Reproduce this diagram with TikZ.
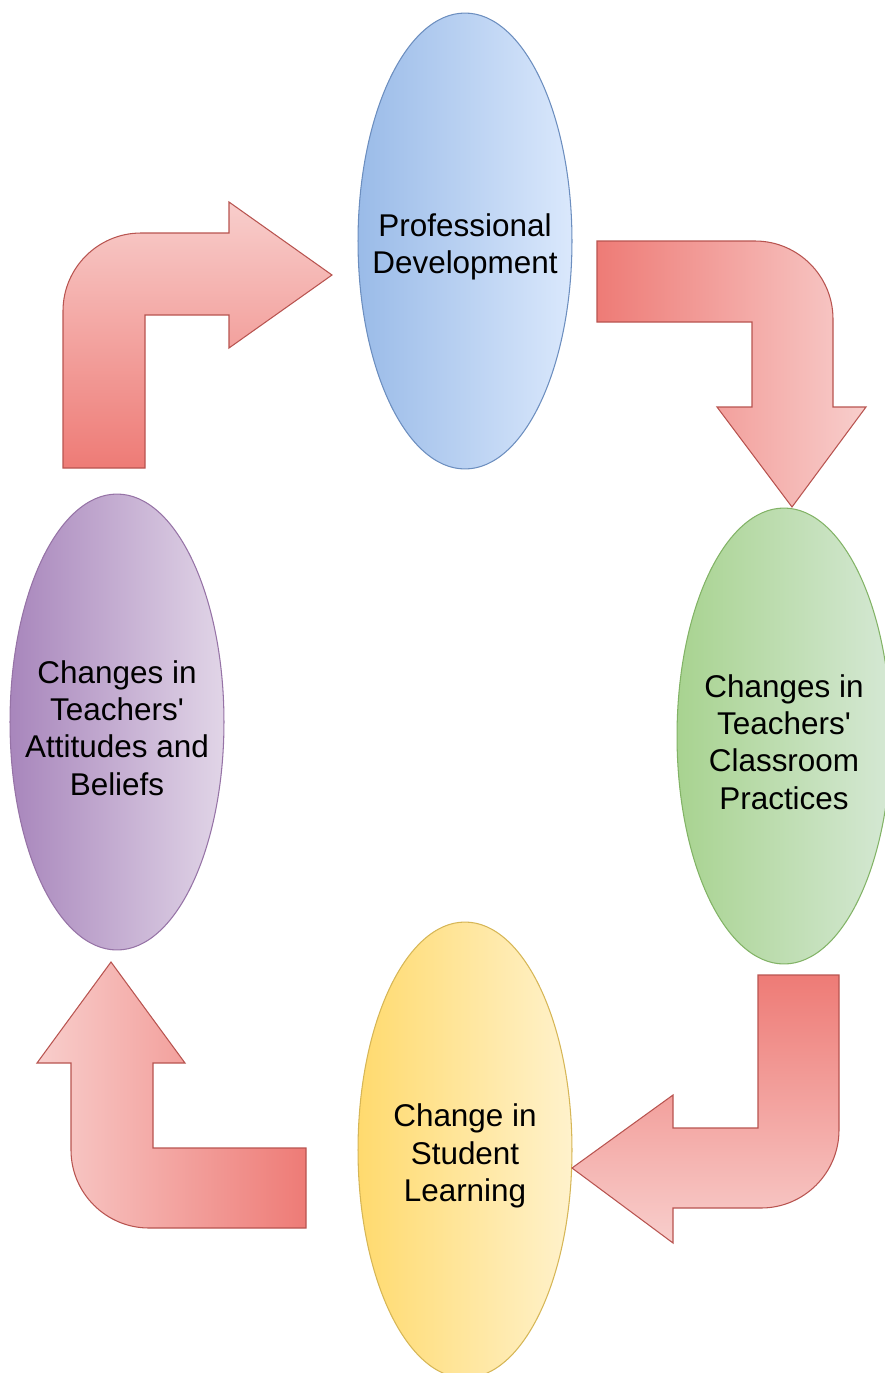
\documentclass[tikz,border=0pt]{standalone}
\usepackage{fontspec}
\setmainfont{Liberation Sans}
\usetikzlibrary{shapes.geometric}

\definecolor{blueDark}{HTML}{9ABBE8}
\definecolor{blueLight}{HTML}{DAE8FC}
\definecolor{blueLine}{HTML}{6C8EBF}
\definecolor{greenDark}{HTML}{A8D390}
\definecolor{greenLight}{HTML}{D5E8D4}
\definecolor{greenLine}{HTML}{82B366}
\definecolor{yellowDark}{HTML}{FFDA6E}
\definecolor{yellowLight}{HTML}{FFF2CC}
\definecolor{yellowLine}{HTML}{D6B656}
\definecolor{purpleDark}{HTML}{A886BC}
\definecolor{purpleLight}{HTML}{E1D5E7}
\definecolor{purpleLine}{HTML}{9673A6}
\definecolor{redDark}{HTML}{EE7B76}
\definecolor{redLight}{HTML}{F8CECC}
\definecolor{redLine}{HTML}{B85450}

\tikzset{
    oval/.style={ellipse, draw, line width=0.6pt, minimum width=4.28cm, minimum height=9.12cm, inner sep=0pt},
    ovaltext/.style={align=center, inner sep=0pt, yshift=-0.12cm, font=\fontsize{17.9}{21.3}\selectfont},
    bentarrow/.style={draw=redLine, line width=0.6pt, line join=miter}
}

\begin{document}
\begin{tikzpicture}[x=0.02cm, y=-0.02cm]
    \useasboundingbox (0,0) rectangle (885,1373);
    \clip (0,0) rectangle (885,1373);

    % Professional Development
    \node[oval, draw=blueLine, left color=blueDark, right color=blueLight] (develop) at (465,241) {};
    \node[ovaltext] (developtext) at (develop) {Professional\\Development};

    % Classroom practices
    \node[oval, draw=greenLine, left color=greenDark, right color=greenLight] (practices) at (784,736) {};
    \node[ovaltext] (practicestext) at (practices) {Changes in\\Teachers\textquotesingle\\Classroom\\Practices};

    % Student learning
    \node[oval, draw=yellowLine, left color=yellowDark, right color=yellowLight] (learning) at (465,1150) {};
    \node[ovaltext] (learningtext) at (learning) {Change in\\Student\\Learning};

    % Attitudes and beliefs
    \node[oval, draw=purpleLine, left color=purpleDark, right color=purpleLight] (beliefs) at (117,722) {};
    \node[ovaltext] (beliefstext) at (beliefs) {Changes in\\Teachers\textquotesingle\\Attitudes and\\Beliefs};

    % Bent arrow: up, then right
    \draw[bentarrow, top color=redLight, bottom color=redDark]
        (63,468) -- (63,311) .. controls (63,268) and (98,233) .. (141,233) -- (229,233) -- (229,202)
        -- (332,275) -- (229,348) -- (229,315) -- (145,315) -- (145,468) -- cycle;

    % Bent arrow: right, then down
    \draw[bentarrow, left color=redDark, right color=redLight]
        (597,241) -- (755,241) .. controls (798,241) and (833,276) .. (833,319) -- (833,407) -- (866,407)
        -- (792,507) -- (717,407) -- (752,407) -- (752,322) -- (597,322) -- cycle;

    % Bent arrow: down, then left
    \draw[bentarrow, top color=redDark, bottom color=redLight]
        (758,975) -- (839,975) -- (839,1130) .. controls (839,1173) and (804,1208) .. (761,1208) -- (673,1208)
        -- (673,1243) -- (572,1168) -- (673,1095) -- (673,1128) -- (758,1128) -- cycle;

    % Bent arrow: left, then up
    \draw[bentarrow, left color=redLight, right color=redDark]
        (306,1148) -- (306,1228) -- (149,1228) .. controls (106,1228) and (71,1193) .. (71,1150) -- (71,1063)
        -- (37,1063) -- (111,962) -- (185,1063) -- (153,1063) -- (153,1148) -- cycle;
\end{tikzpicture}
\end{document}
